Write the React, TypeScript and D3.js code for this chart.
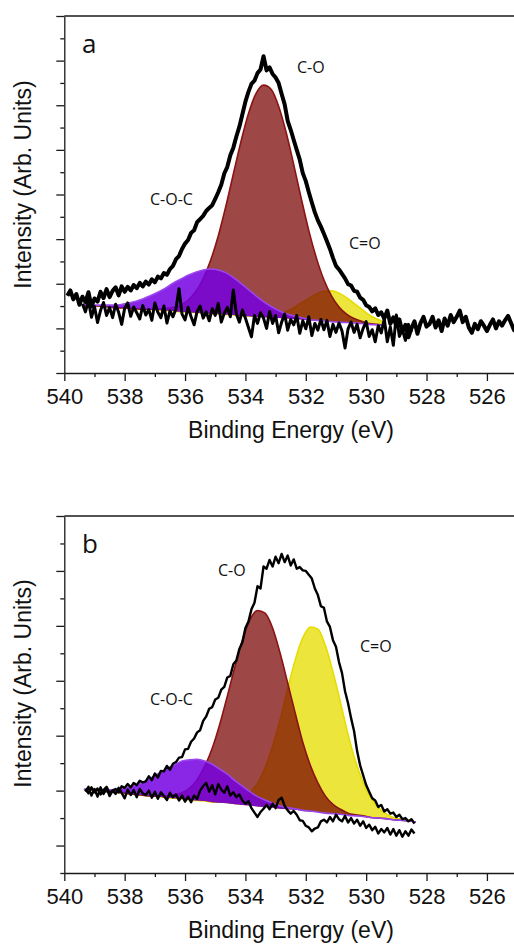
import React, { useRef, useEffect } from "react";
import * as d3 from "d3";

// tick values
const xTicks = [540, 538, 536, 534, 532, 530, 528, 526];
const xMinorTicks = [539, 537, 535, 533, 531, 529, 527, 525];

// ---- panel a : fitted components on a 0.25 eV grid ----
const gridA = [539.4, 539.15, 538.9, 538.65, 538.4, 538.15, 537.9, 537.65, 537.4, 537.15, 536.9, 536.65, 536.4, 536.15, 535.9, 535.65, 535.4, 535.15, 534.9, 534.65, 534.4, 534.15, 533.9, 533.65, 533.4, 533.15, 532.9, 532.65, 532.4, 532.15, 531.9, 531.65, 531.4, 531.15, 530.9, 530.65, 530.4, 530.15, 529.9, 529.65, 529.4];
const bgA = [1.52, 1.51, 1.5, 1.49, 1.47, 1.46, 1.45, 1.44, 1.43, 1.42, 1.41, 1.4, 1.39, 1.37, 1.36, 1.35, 1.34, 1.33, 1.32, 1.31, 1.3, 1.28, 1.27, 1.26, 1.25, 1.24, 1.23, 1.22, 1.21, 1.2, 1.18, 1.17, 1.16, 1.15, 1.14, 1.13, 1.12, 1.11, 1.09, 1.08, 1.07];
const coA = [0, 0, 0, 0, 0, 0, 0, 0, 0, 0.01, 0.02, 0.04, 0.08, 0.15, 0.27, 0.47, 0.77, 1.2, 1.75, 2.42, 3.16, 3.9, 4.54, 5.0, 5.2, 5.12, 4.75, 4.17, 3.46, 2.71, 2.01, 1.41, 0.93, 0.58, 0.34, 0.19, 0.1, 0.05, 0.02, 0.01, 0];
const cocA = [0.01, 0.01, 0.02, 0.03, 0.05, 0.07, 0.11, 0.16, 0.23, 0.31, 0.4, 0.5, 0.62, 0.73, 0.83, 0.91, 0.97, 1.0, 0.99, 0.94, 0.84, 0.73, 0.6, 0.47, 0.35, 0.25, 0.17, 0.11, 0.07, 0.04, 0.02, 0.01, 0.01, 0, 0, 0, 0, 0, 0, 0, 0];
const c2oA = [0, 0, 0, 0, 0, 0, 0, 0, 0, 0, 0, 0, 0, 0, 0, 0, 0, 0, 0, 0, 0, 0, 0.01, 0.01, 0.02, 0.05, 0.09, 0.16, 0.25, 0.37, 0.49, 0.6, 0.67, 0.69, 0.65, 0.56, 0.44, 0.32, 0.21, 0.13, 0.07];

// ---- panel a : measured traces, 0.1 eV steps ----
const rawAStart = 539.9;
const rawA = [
  1.73, 1.85, 1.65, 1.77, 1.53, 1.71, 1.59, 1.81, 1.49, 1.67,
  1.60, 1.82, 1.68, 1.88, 1.70, 1.84, 1.92, 1.74, 1.94, 1.82,
  1.93, 1.85, 1.97, 1.90, 2.02, 1.94, 2.05, 1.98, 2.10, 2.03,
  2.16, 2.12, 2.24, 2.20, 2.33, 2.40, 2.55, 2.62, 2.78, 2.90,
  2.98, 3.14, 3.20, 3.38, 3.45, 3.52, 3.63, 3.70, 3.76, 3.90,
  4.05, 4.22, 4.47, 4.62, 4.88, 5.05, 5.30, 5.52, 5.80, 6.08,
  6.30, 6.48, 6.55, 6.72, 6.80, 7.10, 6.78, 6.85, 6.70, 6.62,
  6.50, 6.25, 6.02, 5.65, 5.45, 5.22, 5.00, 4.78, 4.48, 4.30,
  4.05, 3.82, 3.60, 3.42, 3.28, 3.12, 2.95, 2.78, 2.58, 2.40,
  2.32, 2.22, 2.12, 1.99, 1.96, 1.84, 1.82, 1.69, 1.64, 1.52,
  1.48, 1.38, 1.45, 1.30, 1.36, 1.22, 1.40, 1.10, 1.25, 1.05,
  1.20, 0.92, 1.08, 0.80, 1.00, 1.16, 0.88, 1.12, 1.26, 1.04,
  1.10, 1.26, 1.02, 1.18, 0.94, 1.22, 1.06, 1.30, 1.14, 1.26,
  1.40, 1.14, 1.26, 1.02, 0.90, 1.10, 0.98, 1.16, 1.06, 0.94,
  1.08, 1.20, 1.00, 1.16, 1.06, 1.18, 1.28, 1.12, 0.96, 1.08,
];
const lowAStart = 539.4;
const lowA = [
  1.55, 1.37, 1.62, 1.25, 1.49, 1.13, 1.40, 1.58, 1.29, 1.47,
  1.24, 1.54, 1.36, 1.09, 1.45, 1.57, 1.27, 1.48, 1.35, 1.21,
  1.51, 1.30, 1.42, 1.18, 1.57, 1.36, 1.24, 1.50, 1.12, 1.39,
  1.26, 1.44, 1.89, 1.32, 1.19, 1.47, 1.26, 1.08, 1.38, 1.50,
  1.23, 1.37, 1.17, 1.44, 1.29, 1.56, 1.14, 1.34, 1.47, 1.26,
  1.86, 1.32, 1.14, 1.41, 1.23, 1.02, 0.81, 1.29, 1.11, 1.35,
  1.23, 1.00, 1.38, 1.11, 1.29, 0.90, 1.14, 1.32, 0.96, 1.20,
  1.08, 1.29, 0.89, 1.17, 0.99, 1.26, 0.84, 1.11, 0.96, 1.20,
  0.97, 1.18, 0.82, 1.09, 0.91, 1.12, 0.94, 0.56, 0.99, 1.14,
  0.91, 1.09, 0.79, 1.00, 1.15, 0.82, 0.97, 0.70, 1.06, 0.90,
  1.21, 0.70, 1.03, 0.62, 1.30, 0.82, 0.97, 0.73, 1.09, 0.91,
];

// ---- panel b : fitted components ----
const gridB = [539.35, 539.1, 538.85, 538.6, 538.35, 538.1, 537.85, 537.6, 537.35, 537.1, 536.85, 536.6, 536.35, 536.1, 535.85, 535.6, 535.35, 535.1, 534.85, 534.6, 534.35, 534.1, 533.85, 533.6, 533.35, 533.1, 532.85, 532.6, 532.35, 532.1, 531.85, 531.6, 531.35, 531.1, 530.85, 530.6, 530.35, 530.1, 529.85, 529.6, 529.35, 529.1, 528.85, 528.6, 528.35];
const bgB = [1.02, 1.01, 1.0, 0.98, 0.97, 0.96, 0.94, 0.93, 0.91, 0.9, 0.89, 0.87, 0.86, 0.85, 0.83, 0.82, 0.81, 0.79, 0.78, 0.77, 0.75, 0.74, 0.73, 0.71, 0.7, 0.69, 0.67, 0.66, 0.65, 0.63, 0.62, 0.61, 0.59, 0.58, 0.57, 0.55, 0.54, 0.53, 0.51, 0.5, 0.49, 0.47, 0.46, 0.45, 0.43];
const coB = [0, 0, 0, 0, 0, 0, 0, 0, 0, 0, 0.01, 0.03, 0.06, 0.11, 0.21, 0.38, 0.63, 0.98, 1.43, 1.95, 2.5, 3.0, 3.38, 3.57, 3.53, 3.27, 2.83, 2.3, 1.76, 1.25, 0.84, 0.53, 0.31, 0.17, 0.09, 0.04, 0.02, 0.01, 0, 0, 0, 0, 0, 0, 0];
const cocB = [0.01, 0.01, 0.02, 0.03, 0.05, 0.08, 0.13, 0.18, 0.25, 0.34, 0.43, 0.53, 0.61, 0.69, 0.73, 0.75, 0.73, 0.69, 0.61, 0.53, 0.43, 0.34, 0.25, 0.18, 0.13, 0.08, 0.05, 0.03, 0.02, 0.01, 0.01, 0, 0, 0, 0, 0, 0, 0, 0, 0, 0, 0, 0, 0, 0];
const c2oB = [0, 0, 0, 0, 0, 0, 0, 0, 0, 0, 0, 0, 0, 0, 0, 0, 0, 0, 0.01, 0.02, 0.05, 0.12, 0.23, 0.42, 0.71, 1.12, 1.62, 2.19, 2.73, 3.15, 3.36, 3.33, 3.05, 2.58, 2.03, 1.47, 0.99, 0.62, 0.36, 0.19, 0.09, 0.04, 0.02, 0.01, 0];

// ---- panel b : measured traces ----
const rawBStart = 539.3;
const rawB = [
  1.02, 0.95, 1.06, 0.97, 1.04, 0.93, 1.01, 1.07, 0.96, 1.00,
  1.03, 0.97, 1.08, 1.05, 1.12, 1.06, 1.14, 1.10, 1.18, 1.15,
  1.17, 1.26, 1.19, 1.31, 1.24, 1.36, 1.35, 1.45, 1.38, 1.49,
  1.52, 1.60, 1.61, 1.75, 1.76, 1.89, 1.95, 2.06, 2.10, 2.27,
  2.35, 2.49, 2.52, 2.66, 2.69, 2.84, 2.89, 3.06, 3.09, 3.30,
  3.37, 3.58, 3.70, 3.96, 4.08, 4.30, 4.42, 4.72, 4.68, 5.08,
  5.04, 5.20, 5.08, 5.26, 5.14, 5.31, 5.16, 5.28, 5.10, 5.21,
  5.04, 5.07, 5.01, 5.00, 4.93, 4.86, 4.68, 4.56, 4.36, 4.33,
  4.08, 3.98, 3.74, 3.62, 3.34, 3.14, 2.81, 2.59, 2.32, 2.08,
  1.72, 1.46, 1.28, 1.10, 0.98, 0.86, 0.82, 0.70, 0.74, 0.62,
  0.66, 0.58, 0.60, 0.52, 0.56, 0.48, 0.50, 0.44, 0.48, 0.40,
];
const lowBStart = 539.3;
const lowB = [
  0.98, 1.07, 0.91, 1.03, 0.89, 1.06, 0.94, 1.04, 0.90, 1.00,
  0.94, 1.05, 0.96, 0.86, 1.02, 0.92, 1.01, 0.88, 1.03, 0.95,
  0.92, 1.00, 0.87, 0.98, 0.85, 0.97, 0.90, 0.83, 0.96, 0.88,
  0.93, 0.82, 0.91, 0.80, 0.89, 0.79, 0.91, 0.85, 1.00, 1.08,
  1.14, 0.98, 1.10, 0.93, 1.12, 1.02, 0.96, 1.08, 0.91, 0.97,
  0.88, 0.93, 0.82, 0.76, 0.81, 0.68, 0.60, 0.52, 0.61, 0.67,
  0.74, 0.66, 0.76, 0.68, 0.83, 0.87, 0.72, 0.64, 0.58, 0.63,
  0.56, 0.46, 0.45, 0.36, 0.33, 0.26, 0.31, 0.33, 0.44, 0.47,
  0.42, 0.52, 0.44, 0.56, 0.48, 0.44, 0.54, 0.42, 0.50, 0.40,
  0.47, 0.36, 0.44, 0.32, 0.38, 0.28, 0.34, 0.22, 0.30, 0.24,
  0.32, 0.20, 0.30, 0.18, 0.28, 0.16, 0.26, 0.18, 0.29, 0.22,
];

const panels = [
  {
    letter: "a", top: 16, bottom: 373, yDomain: [0, 8], titleY: 184.5,
    grid: gridA, bg: bgA, co: coA, coc: cocA, c2o: c2oA,
    raw: rawA, rawStart: rawAStart, rawWidth: 4,
    low: lowA, lowStart: lowAStart, lowWidth: 3,
    labels: [
      { t: "C-O", x: 297, y: 73 },
      { t: "C-O-C", x: 150, y: 205 },
      { t: "C=O", x: 349, y: 249 },
    ],
  },
  {
    letter: "b", top: 516, bottom: 873, yDomain: [-0.5, 6], titleY: 683.5,
    grid: gridB, bg: bgB, co: coB, coc: cocB, c2o: c2oB,
    raw: rawB, rawStart: rawBStart, rawWidth: 2.4,
    low: lowB, lowStart: lowBStart, lowWidth: 2.4,
    labels: [
      { t: "C-O", x: 218, y: 576 },
      { t: "C-O-C", x: 150, y: 705 },
      { t: "C=O", x: 360, y: 652 },
    ],
  },
];

const AX = "#1a1a1a";
const SANS = "'Liberation Sans', Arial, sans-serif";
const LBL = "'Open Sans', 'Noto Sans', sans-serif";

function drawPanel(svg, p) {
  const x = d3.scaleLinear().domain([540, 525]).range([64.3, 517.1]);
  const y = d3.scaleLinear().domain(p.yDomain).range([p.bottom, p.top]);
  const g = svg.append("g");

  const comp = (vals) => p.grid.map((e, i) => ({ e, b: p.bg[i], v: p.bg[i] + vals[i] }));
  const area = d3.area().x((d) => x(d.e)).y0((d) => y(d.b)).y1((d) => y(d.v)).curve(d3.curveMonotoneX);
  const top = d3.line().x((d) => x(d.e)).y((d) => y(d.v)).curve(d3.curveMonotoneX);

  const comps = [
    { vals: p.c2o, fill: "#ece63c", op: 1, stroke: "#e6dc00" },
    { vals: p.co, fill: "rgb(120,0,0)", op: 0.72, stroke: "#8a1414" },
    { vals: p.coc, fill: "rgb(118,0,225)", op: 0.85, stroke: "#9b45ee" },
  ];
  comps.forEach((c) => {
    const d = comp(c.vals);
    g.append("path").attr("d", area(d)).attr("fill", c.fill).attr("fill-opacity", c.op);
    g.append("path").attr("d", top(d)).attr("fill", "none").attr("stroke", c.stroke).attr("stroke-width", 1.6);
  });

  const trace = d3.line().x((d) => x(d.e)).y((d) => y(d.v));
  const series = (vals, start) => vals.map((v, i) => ({ e: start - i * 0.1, v }));
  g.append("path").attr("d", trace(series(p.low, p.lowStart)))
    .attr("fill", "none").attr("stroke", "#000").attr("stroke-width", p.lowWidth).attr("stroke-linejoin", "round");
  g.append("path").attr("d", trace(series(p.raw, p.rawStart)))
    .attr("fill", "none").attr("stroke", "#000").attr("stroke-width", p.rawWidth).attr("stroke-linejoin", "round");

  // axes
  const yMajor = d3.range(Math.ceil(p.yDomain[0]), p.yDomain[1] + 0.01, 1);
  const yMinor = d3.range(p.yDomain[0], p.yDomain[1], 1).map((v) => (Number.isInteger(v) ? v + 0.5 : v));

  const xa = g.append("g").attr("transform", `translate(0,${p.bottom})`)
    .call(d3.axisBottom(x).tickValues(xTicks).tickSize(8).tickSizeOuter(0).tickPadding(7).tickFormat(d3.format("d")));
  xa.selectAll("text").attr("font-family", SANS).attr("font-size", 22).attr("fill", "#111");
  const xm = g.append("g").attr("transform", `translate(0,${p.bottom})`)
    .call(d3.axisBottom(x).tickValues(xMinorTicks).tickSize(4).tickSizeOuter(0).tickFormat(() => ""));
  xm.select(".domain").remove();

  const ya = g.append("g").attr("transform", "translate(64.3,0)")
    .call(d3.axisLeft(y).tickValues(yMajor).tickSize(8).tickSizeOuter(0).tickFormat(() => ""));
  const ym = g.append("g").attr("transform", "translate(64.3,0)")
    .call(d3.axisLeft(y).tickValues(yMinor).tickSize(4).tickSizeOuter(0).tickFormat(() => ""));
  ym.select(".domain").remove();

  g.append("line").attr("x1", 64.3).attr("x2", 514).attr("y1", p.top).attr("y2", p.top)
    .attr("stroke", AX).attr("stroke-width", 1.3);

  [xa, xm, ya, ym].forEach((a) => {
    a.selectAll("line").attr("stroke", AX).attr("stroke-width", 1.3);
    a.selectAll(".domain").attr("stroke", AX).attr("stroke-width", 1.3);
  });

  g.append("text").attr("x", 291).attr("y", p.bottom + 65).attr("text-anchor", "middle")
    .attr("font-family", SANS).attr("font-size", 23).attr("fill", "#111").text("Binding Energy (eV)");
  g.append("text").attr("transform", `translate(31,${p.titleY}) rotate(-90)`).attr("text-anchor", "middle")
    .attr("font-family", SANS).attr("font-size", 23).attr("fill", "#111").text("Intensity (Arb. Units)");

  g.append("text").attr("x", 82).attr("y", p.top + 37).attr("font-family", LBL).attr("font-size", 26)
    .attr("fill", "#111").text(p.letter);
  p.labels.forEach((l) => {
    g.append("text").attr("x", l.x).attr("y", l.y).attr("font-family", LBL).attr("font-size", 16)
      .attr("fill", "#111").text(l.t);
  });
}

const App = () => {
  const svgRef = useRef(null);

  useEffect(() => {
    const svg = d3.select(svgRef.current);
    svg.selectAll("*").remove();
    panels.forEach((p) => drawPanel(svg, p));
  }, []);

  return (
    <svg ref={svgRef} width={514} height={944}
      style={{ position: "absolute", left: 0, top: 0, background: "#fff" }} />
  );
};

export default App;
